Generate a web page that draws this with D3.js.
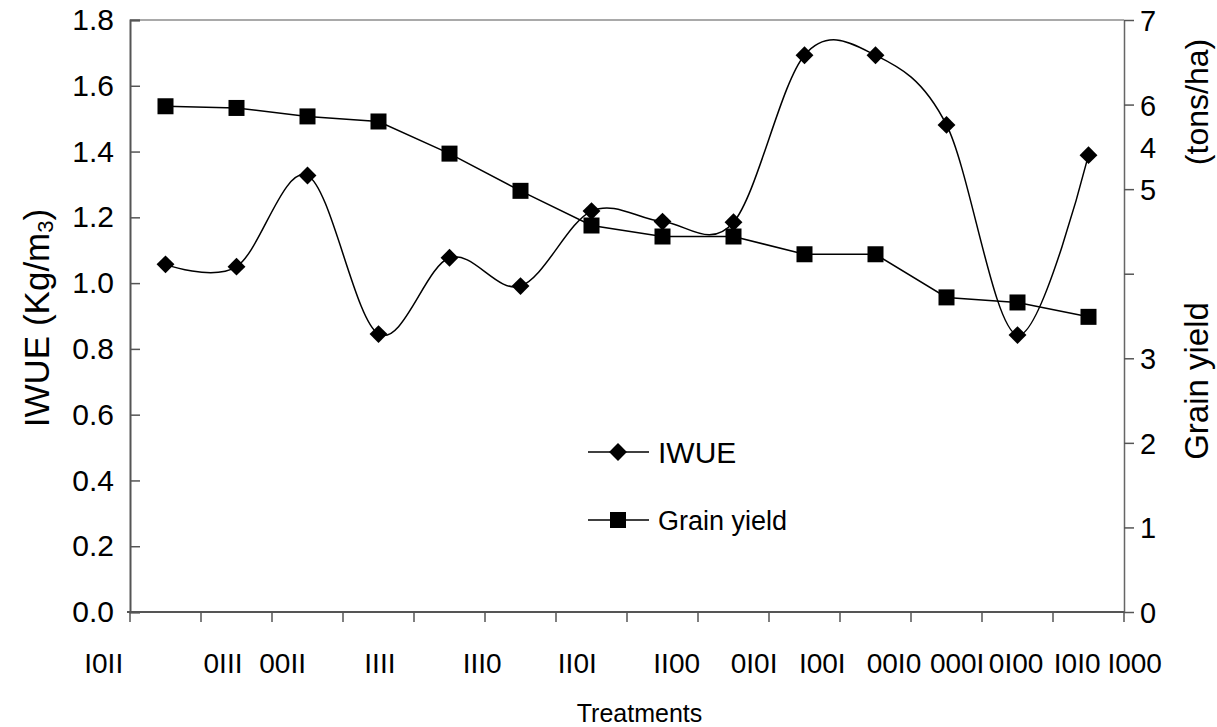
<!DOCTYPE html>
<html>
<head>
<meta charset="utf-8">
<script src="https://cdn.jsdelivr.net/npm/d3@7"></script>
<style>
  body { margin: 0; background: #fff; }
  svg text { font-family: Arial, "Liberation Sans", Helvetica, sans-serif; }
</style>
</head>
<body>
<svg></svg>
<script>
const treatments = ["I0II", "0III", "00II", "IIII", "III0", "II0I", "II00", "0I0I", "I00I", "00I0", "000I", "0I00", "I0I0", "I000"];
const iwue = [1.057, 1.050, 1.327, 0.845, 1.077, 0.991, 1.219, 1.187, 1.185, 1.693, 1.693, 1.481, 0.842, 1.389];
const grainYield = [5.98, 5.96, 5.86, 5.80, 5.42, 4.98, 4.57, 4.44, 4.44, 4.23, 4.23, 3.72, 3.66, 3.49];
const leftTicks = [0, 0.2, 0.4, 0.6, 0.8, 1.0, 1.2, 1.4, 1.6, 1.8];
const rightTicks = [0, 1, 2, 3, 4, 5, 6, 7];

// label centres in category units (the reference labels do not sit under the bands)
const labelUnits = [-0.37, 1.31, 2.15, 3.52, 4.96, 6.30, 7.70, 8.79, 9.75, 10.76, 11.65, 12.48, 13.34, 14.15];

const width = 1217, height = 727;
const margin = { top: 20, right: 93, bottom: 115, left: 130 };

const svg = d3.select("svg")
    .attr("width", width)
    .attr("height", height);

const x = d3.scaleBand()
    .domain(treatments)
    .range([margin.left, width - margin.right]);

const xu = d3.scaleLinear()
    .domain([0, treatments.length])
    .range([margin.left, width - margin.right]);

const y = d3.scaleLinear()
    .domain([0, 1.8])
    .range([height - margin.bottom, margin.top]);

const y2 = d3.scaleLinear()
    .domain([0, 7])
    .range([height - margin.bottom, margin.top]);

const cx = d => x(d) + x.bandwidth() / 2;

// top border
svg.append("line")
    .attr("x1", margin.left).attr("x2", width - margin.right)
    .attr("y1", margin.top).attr("y2", margin.top)
    .attr("stroke", "#8c8c8c").attr("stroke-width", 1.5);

// left axis, ticks inward
const gy = svg.append("g")
    .attr("transform", `translate(${margin.left},0)`)
    .call(d3.axisRight(y).tickValues(leftTicks).tickSize(10).tickFormat(d3.format(".1f")));
gy.attr("font-family", null);
gy.select(".domain").attr("stroke", "#555").attr("stroke-width", 2);
gy.selectAll(".tick line").attr("stroke", "#555").attr("stroke-width", 1.5);
gy.selectAll(".tick text")
    .attr("x", -16).attr("text-anchor", "end")
    .attr("font-size", 30).attr("fill", "#000");

// right axis, ticks outward
const gy2 = svg.append("g")
    .attr("transform", `translate(${width - margin.right},0)`)
    .call(d3.axisRight(y2).tickValues(rightTicks).tickSize(10).tickSizeOuter(0).tickFormat(d3.format("d")));
gy2.attr("font-family", null);
gy2.select(".domain").attr("stroke", "#666").attr("stroke-width", 1.5);
gy2.selectAll(".tick line").attr("stroke", "#555").attr("stroke-width", 1.5);
gy2.selectAll(".tick text")
    .attr("x", 16).attr("font-size", 29).attr("fill", "#000")
    .attr("dy", d => d === 4 ? "-4em" : "0.36em");

// bottom axis
const gx = svg.append("g")
    .attr("transform", `translate(0,${height - margin.bottom})`);
gx.append("line")
    .attr("x1", margin.left - 3).attr("x2", width - margin.right)
    .attr("stroke", "#555").attr("stroke-width", 2);
gx.selectAll(".tk")
    .data(d3.range(treatments.length + 1))
    .enter().append("line")
    .attr("x1", d => xu(d)).attr("x2", d => xu(d))
    .attr("y1", 0).attr("y2", 10)
    .attr("stroke", "#555").attr("stroke-width", 1.5);
gx.selectAll(".lbl")
    .data(treatments)
    .enter().append("text")
    .attr("x", (d, i) => xu(labelUnits[i]))
    .attr("y", 61)
    .attr("text-anchor", "middle")
    .attr("font-size", 28)
    .text(d => d);

// axis titles
svg.append("text")
    .attr("transform", `translate(${width / 2 + 31},${height - 5}) `)
    .attr("text-anchor", "middle")
    .attr("font-size", 25)
    .text("Treatments");

const lt = svg.append("text")
    .attr("transform", "translate(49,318) rotate(-90)")
    .attr("text-anchor", "middle")
    .attr("font-size", 35);
lt.append("tspan").text("IWUE (Kg/m");
lt.append("tspan").attr("font-size", 22).attr("dy", 4).text("3");
lt.append("tspan").attr("dy", -4).text(")");

svg.append("text")
    .attr("transform", "translate(1208,381) rotate(-90)")
    .attr("text-anchor", "middle")
    .attr("font-size", 33)
    .text("Grain yield");
svg.append("text")
    .attr("transform", "translate(1208,102) rotate(-90)")
    .attr("text-anchor", "middle")
    .attr("font-size", 32)
    .text("(tons/ha)");

// series
const curve = d3.line()
    .x((d, i) => cx(treatments[i]))
    .y(d => y(d))
    .curve(d3.curveCardinal.tension(0));

svg.append("path")
    .datum(iwue)
    .attr("d", curve)
    .attr("fill", "none")
    .attr("stroke", "#000")
    .attr("stroke-width", 1.5);

const straight = d3.line()
    .x((d, i) => cx(treatments[i]))
    .y(d => y2(d));

svg.append("path")
    .datum(grainYield)
    .attr("d", straight)
    .attr("fill", "none")
    .attr("stroke", "#000")
    .attr("stroke-width", 1.5);

const diamond = d3.symbol().type(d3.symbolSquare).size(160);

svg.append("g").selectAll("path")
    .data(iwue)
    .enter().append("path")
    .attr("d", diamond)
    .attr("transform", (d, i) => `translate(${cx(treatments[i])},${y(d)}) rotate(45)`)
    .attr("fill", "#000");

svg.append("g").selectAll("rect")
    .data(grainYield)
    .enter().append("rect")
    .attr("x", (d, i) => cx(treatments[i]) - 8)
    .attr("y", d => y2(d) - 8)
    .attr("width", 16)
    .attr("height", 16)
    .attr("fill", "#000");

// legend
const legend = svg.append("g")
    .selectAll("g")
    .data([
        { name: "IWUE", mark: "diamond", size: 30 },
        { name: "Grain yield", mark: "square", size: 27 }
    ])
    .enter().append("g")
    .attr("transform", (d, i) => `translate(588,${452 + i * 68})`);

legend.append("line")
    .attr("x1", 0).attr("x2", 61)
    .attr("stroke", "#000").attr("stroke-width", 1.5);

legend.filter(d => d.mark === "diamond").append("path")
    .attr("d", diamond)
    .attr("transform", "translate(30,0) rotate(45)")
    .attr("fill", "#000");

legend.filter(d => d.mark === "square").append("rect")
    .attr("x", 22).attr("y", -8).attr("width", 16).attr("height", 16)
    .attr("fill", "#000");

legend.append("text")
    .attr("x", 70)
    .attr("dy", "0.36em")
    .attr("font-size", d => d.size)
    .text(d => d.name);
</script>
</body>
</html>
